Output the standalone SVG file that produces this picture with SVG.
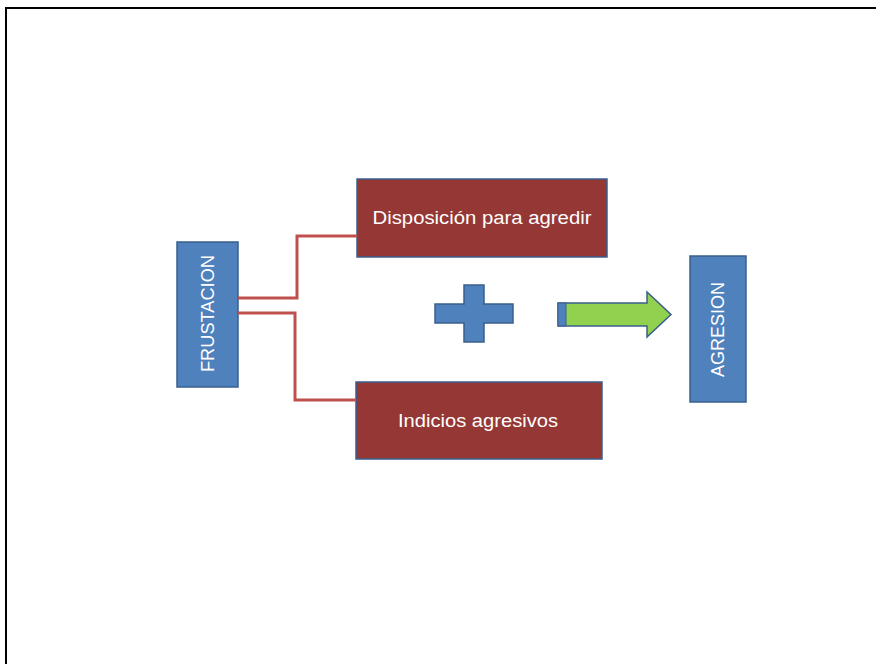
<svg xmlns="http://www.w3.org/2000/svg" width="876" height="664" viewBox="0 0 876 664">
  <style>
    .blue { fill: #4F81BD; stroke: #3A5F8C; stroke-width: 1.5; }
    .red { fill: #953735; stroke: #3A5F8C; stroke-width: 1.5; }
    .lbl { fill: #FFFFFF; font-family: "Liberation Sans", "Open Sans", sans-serif; }
    .conn { fill: none; stroke: #C0504D; stroke-width: 3; stroke-linejoin: miter; }
  </style>
  <rect width="876" height="664" fill="#FFFFFF"/>
  <!-- page frame -->
  <path d="M6 664 V8 H876" fill="none" stroke="#000000" stroke-width="2"/>

  <g id="frustacion">
    <rect class="blue" x="177" y="242" width="61" height="145"/>
    <text class="lbl" font-size="18.5" text-anchor="middle" transform="translate(213.5 313.5) rotate(-90)" textLength="117" lengthAdjust="spacingAndGlyphs">FRUSTACION</text>
  </g>

  <g id="disposicion">
    <rect class="red" x="357" y="179" width="250" height="78"/>
    <text class="lbl" font-size="18" x="482" y="224" text-anchor="middle" textLength="219" lengthAdjust="spacingAndGlyphs">Disposición para agredir</text>
  </g>

  <g id="indicios">
    <rect class="red" x="356" y="382" width="246" height="77"/>
    <text class="lbl" font-size="18" x="478" y="427" text-anchor="middle" textLength="160" lengthAdjust="spacingAndGlyphs">Indicios agresivos</text>
  </g>

  <g id="plus">
    <path class="blue" d="M464 285 H484 V304 H513 V323 H484 V342 H464 V323 H435 V304 H464 Z"/>
  </g>

  <g id="arrow">
    <path d="M558 303 H647 V292 L671 314.5 L647 337 V326 H558 Z" fill="#92D050" stroke="#3A5F8C" stroke-width="1.5"/>
    <rect x="558" y="303" width="8" height="23" fill="#4F81BD" stroke="#3A5F8C" stroke-width="1"/>
  </g>

  <g id="agresion">
    <rect class="blue" x="690" y="256" width="56" height="146"/>
    <text class="lbl" font-size="18" text-anchor="middle" transform="translate(724 329.5) rotate(-90)" textLength="95" lengthAdjust="spacingAndGlyphs">AGRESION</text>
  </g>

  <g id="connectors">
    <path class="conn" d="M238 298 H297 V236 H357"/>
    <path class="conn" d="M238 313 H295 V400 H356"/>
  </g>
</svg>
